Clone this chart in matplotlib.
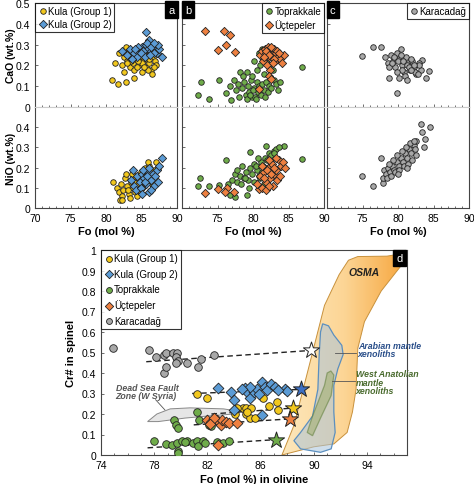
import numpy as np
import matplotlib
matplotlib.use("Agg")
import matplotlib.pyplot as plt
from matplotlib.patches import Polygon
from matplotlib.colors import LinearSegmentedColormap
from matplotlib.ticker import MultipleLocator, FuncFormatter

plt.rcParams["font.family"] = ["Liberation Sans", "DejaVu Sans"]
plt.rcParams["font.size"] = 7.5

# colours
c_k1 = "#f2c81e"
c_k2 = "#5b9bd5"
c_tp = "#6fac4a"
c_uc = "#ee8040"
c_kc = "#a8a8a8"

# ---- panel a: Kula ----
k1_fo_ca = [81.3, 81.8, 82.2, 82.5, 82.8, 83.0, 83.2, 83.4, 83.6, 83.8, 84.0, 84.2, 84.4, 84.6, 84.8, 85.0,
            85.2, 85.4, 85.6, 85.8, 86.0, 86.3, 86.6, 86.9, 87.1, 82.6, 83.1, 83.5, 83.9, 84.3, 84.7, 85.1,
            85.5, 85.9, 86.2, 86.5, 82.9, 83.7, 84.5, 85.3, 86.1, 86.8, 80.9, 81.7, 82.8, 84.0]
k1_cao = [0.21, 0.26, 0.20, 0.24, 0.29, 0.22, 0.27, 0.19, 0.25, 0.21, 0.18, 0.23, 0.28, 0.20, 0.24, 0.17,
          0.22, 0.26, 0.19, 0.23, 0.21, 0.18, 0.24, 0.22, 0.20, 0.17, 0.25, 0.22, 0.27, 0.19, 0.25, 0.21,
          0.24, 0.18, 0.26, 0.16, 0.21, 0.23, 0.22, 0.19, 0.23, 0.19, 0.13, 0.11, 0.12, 0.14]
k2_fo_ca = [82.3, 82.9, 83.4, 83.9, 84.3, 84.7, 85.0, 85.3, 85.6, 85.9, 86.1, 86.3, 86.6, 86.9, 87.2, 87.5,
            87.9, 83.6, 84.5, 85.2, 85.8, 86.4, 86.8, 87.3, 84.1, 84.9, 85.5, 86.2, 86.7, 85.7]
k2_cao = [0.27, 0.25, 0.28, 0.26, 0.24, 0.27, 0.29, 0.25, 0.30, 0.28, 0.32, 0.27, 0.30, 0.29, 0.26, 0.28,
          0.24, 0.23, 0.29, 0.27, 0.31, 0.29, 0.26, 0.30, 0.28, 0.26, 0.24, 0.25, 0.31, 0.36]
k1_fo_ni = [81.0, 81.5, 81.8, 82.1, 82.4, 82.7, 83.0, 83.2, 83.5, 83.8, 84.0, 84.3, 84.6, 84.9, 85.2, 85.5,
            85.8, 86.1, 86.4, 86.7, 87.0, 87.3, 82.2, 82.8, 83.4, 84.1, 84.7, 85.3, 85.9, 86.5, 82.0, 82.3,
            83.6, 84.4, 85.0, 85.6, 86.2, 83.1, 83.9]
k1_nio = [0.13, 0.10, 0.08, 0.12, 0.09, 0.15, 0.11, 0.07, 0.13, 0.10, 0.16, 0.12, 0.09, 0.18, 0.14, 0.20,
          0.17, 0.21, 0.15, 0.19, 0.23, 0.20, 0.06, 0.17, 0.05, 0.08, 0.14, 0.11, 0.23, 0.12, 0.04, 0.04,
          0.17, 0.06, 0.10, 0.15, 0.19, 0.09, 0.13]
k2_fo_ni = [83.5, 84.0, 84.4, 84.8, 85.1, 85.4, 85.7, 86.0, 86.3, 86.6, 86.9, 87.2, 87.5, 87.9, 84.2, 84.9,
            85.5, 86.1, 86.7, 87.3, 85.2, 85.8, 86.4, 86.0, 85.0, 83.8]
k2_nio = [0.14, 0.11, 0.16, 0.13, 0.17, 0.15, 0.12, 0.18, 0.14, 0.17, 0.16, 0.19, 0.21, 0.25, 0.09, 0.10,
          0.13, 0.08, 0.11, 0.13, 0.19, 0.16, 0.09, 0.20, 0.07, 0.19]

# ---- panel b: Toprakkale, Uctepeler ----
tp_fo_ca = [72.2, 72.65, 73.8, 75.15, 76.2, 76.9, 76.8, 77.3, 77.6, 77.9, 78.2, 78.4, 78.7, 79.0, 79.1, 79.3,
            79.5, 79.7, 79.9, 80.1, 80.3, 80.5, 80.7, 80.9, 81.1, 81.3, 81.5, 81.7, 81.9, 82.1, 82.3, 82.6,
            82.9, 83.2, 83.5, 83.8, 78.0, 78.6, 79.2, 79.8, 80.4, 81.0, 81.6, 82.2, 82.8, 80.2, 80.8, 81.4,
            81.2, 80.6, 86.9, 79.6, 80.0, 81.8, 82.4]
tp_cao = [0.058, 0.12, 0.038, 0.128, 0.067, 0.034, 0.10, 0.13, 0.08, 0.11, 0.17, 0.09, 0.12, 0.06, 0.17, 0.10,
          0.07, 0.13, 0.05, 0.09, 0.05, 0.12, 0.07, 0.10, 0.06, 0.11, 0.08, 0.05, 0.12, 0.07, 0.10, 0.09,
          0.13, 0.11, 0.08, 0.12, 0.05, 0.15, 0.04, 0.15, 0.04, 0.20, 0.16, 0.20, 0.18, 0.22, 0.26, 0.24,
          0.28, 0.18, 0.19, 0.06, 0.08, 0.22, 0.14]
uc_fo_ca = [73.3, 75.96, 76.7, 75.06, 76.2, 77.4, 80.8, 81.0, 81.3, 81.5, 81.7, 81.9, 82.1, 82.3, 82.5, 82.7,
            82.9, 83.1, 83.3, 83.5, 83.8, 84.1, 84.4, 81.4, 81.8, 82.2, 82.6, 83.0, 83.4, 82.0, 82.4, 82.8,
            82.3, 82.5, 81.6, 83.6]
uc_cao = [0.364, 0.365, 0.346, 0.276, 0.298, 0.264, 0.087, 0.25, 0.27, 0.23, 0.28, 0.26, 0.29, 0.24, 0.27, 0.25,
          0.28, 0.22, 0.26, 0.24, 0.23, 0.21, 0.25, 0.22, 0.27, 0.25, 0.29, 0.23, 0.27, 0.20, 0.18, 0.21,
          0.15, 0.135, 0.24, 0.26]
tp_fo_ni = [72.2, 72.55, 73.8, 75.15, 76.2, 76.7, 77.5, 79.1, 79.6, 81.8, 84.4, 86.9, 76.5, 77.0, 77.4, 77.8,
            78.1, 78.4, 78.7, 79.0, 79.3, 79.6, 79.9, 80.2, 80.5, 80.8, 81.1, 81.4, 81.7, 82.0, 82.3, 82.6,
            82.9, 83.2, 83.6, 77.7, 78.3, 78.9, 79.5, 80.1, 80.7, 81.3, 81.9, 80.4, 81.0, 81.6, 82.5, 83.0]
tp_nio = [0.107, 0.148, 0.107, 0.115, 0.238, 0.066, 0.056, 0.066, 0.277, 0.307, 0.307, 0.244, 0.12, 0.14, 0.17, 0.13,
          0.16, 0.21, 0.15, 0.18, 0.14, 0.20, 0.17, 0.22, 0.19, 0.16, 0.23, 0.21, 0.25, 0.24, 0.27, 0.26,
          0.28, 0.29, 0.30, 0.19, 0.12, 0.15, 0.10, 0.13, 0.25, 0.18, 0.20, 0.21, 0.15, 0.12, 0.23, 0.27]
uc_fo_ni = [73.3, 75.06, 76.3, 76.0, 77.3, 80.8, 80.6, 81.0, 81.3, 81.6, 81.9, 82.1, 82.4, 82.7, 83.0, 83.3,
            83.6, 83.9, 84.2, 84.5, 81.2, 81.8, 82.3, 82.8, 83.4, 81.5, 82.0, 82.6, 83.2, 83.8, 82.2, 82.9]
uc_nio = [0.073, 0.094, 0.10, 0.08, 0.08, 0.094, 0.12, 0.16, 0.10, 0.18, 0.13, 0.20, 0.15, 0.22, 0.17, 0.19,
          0.24, 0.21, 0.23, 0.20, 0.21, 0.09, 0.24, 0.11, 0.14, 0.15, 0.19, 0.17, 0.25, 0.16, 0.11, 0.20]

# ---- panel c: Karacadag ----
kc_fo_ca = [74.9, 76.5, 77.6, 80.45, 78.8, 79.9, 84.4, 84.0, 83.4, 78.2, 78.6, 79.0, 79.3, 79.6, 79.9, 80.2,
            80.5, 80.8, 81.1, 81.4, 81.7, 82.0, 82.3, 82.6, 82.9, 83.2, 78.8, 79.4, 80.0, 80.6, 81.2, 81.8,
            82.4, 83.0, 79.2, 79.8, 80.4, 81.0, 81.6, 82.2, 82.8, 80.1, 80.7, 81.3, 81.9]
kc_cao = [0.247, 0.287, 0.287, 0.279, 0.138, 0.067, 0.175, 0.138, 0.227, 0.24, 0.21, 0.25, 0.22, 0.19, 0.26, 0.23,
          0.20, 0.17, 0.24, 0.21, 0.18, 0.22, 0.19, 0.16, 0.21, 0.18, 0.19, 0.24, 0.22, 0.18, 0.20, 0.23,
          0.17, 0.20, 0.21, 0.17, 0.25, 0.15, 0.19, 0.20, 0.16, 0.14, 0.22, 0.13, 0.18]
kc_fo_ni = [74.9, 76.5, 77.9, 77.9, 77.6, 83.2, 84.5, 83.4, 83.8, 83.6, 78.0, 78.3, 78.6, 78.9, 79.2, 79.5,
            79.8, 80.1, 80.4, 80.7, 81.0, 81.3, 81.6, 81.9, 82.2, 82.5, 78.5, 79.0, 79.6, 80.2, 80.8, 81.4,
            82.0, 82.6, 79.3, 79.9, 80.5, 81.1, 81.7, 82.3, 78.8, 80.0, 81.2, 82.4]
kc_nio = [0.16, 0.107, 0.122, 0.147, 0.25, 0.416, 0.40, 0.378, 0.34, 0.30, 0.19, 0.17, 0.20, 0.18, 0.21, 0.19,
          0.23, 0.21, 0.25, 0.23, 0.27, 0.25, 0.29, 0.27, 0.31, 0.33, 0.15, 0.16, 0.18, 0.19, 0.21, 0.22,
          0.24, 0.26, 0.24, 0.26, 0.28, 0.30, 0.32, 0.33, 0.22, 0.17, 0.20, 0.29]

# ---- panel d: Cr# in spinel vs Fo ----
d_kc_fo = [74.9, 77.6, 78.1, 78.7, 78.9, 79.4, 79.7, 79.6, 79.8, 79.6, 80.5, 78.7, 78.9, 81.5, 81.3, 82.5]
d_kc_cr = [0.52, 0.51, 0.48, 0.49, 0.50, 0.50, 0.50, 0.48, 0.46, 0.45, 0.45, 0.40, 0.43, 0.47, 0.43, 0.49]
d_k2_fo = [82.8, 83.8, 84.0, 84.8, 85.0, 85.2, 85.5, 85.7, 86.1, 86.3, 86.5, 86.8, 87.1, 87.8, 88.0, 87.3,
           84.0, 86.1, 85.2, 85.9, 84.6]
d_k2_cr = [0.327, 0.307, 0.27, 0.327, 0.307, 0.28, 0.307, 0.324, 0.356, 0.332, 0.315, 0.348, 0.332, 0.324, 0.31, 0.315,
           0.22, 0.196, 0.332, 0.30, 0.32]
d_k1_fo = [81.2, 82.0, 84.7, 84.9, 85.3, 84.9, 85.2, 85.6, 86.2, 86.6, 87.2, 87.3, 84.1, 84.2, 85.0]
d_k1_cr = [0.30, 0.28, 0.23, 0.227, 0.23, 0.20, 0.18, 0.18, 0.28, 0.24, 0.26, 0.22, 0.20, 0.23, 0.21]
d_uc_fo = [82.0, 82.3, 82.7, 83.0, 83.1, 83.4, 83.6, 84.2, 82.5, 82.8, 82.2]
d_uc_cr = [0.173, 0.16, 0.17, 0.145, 0.173, 0.163, 0.157, 0.155, 0.18, 0.047, 0.15]
d_tp_fo = [81.2, 79.5, 79.6, 79.8, 81.4, 82.1, 82.3, 78.0, 78.9, 79.3, 79.7, 80.1, 80.5, 80.9, 81.2, 81.3,
           81.7, 81.8, 82.7, 83.2, 83.6, 79.8, 79.8, 80.3]
d_tp_cr = [0.21, 0.17, 0.145, 0.13, 0.17, 0.145, 0.14, 0.07, 0.055, 0.05, 0.06, 0.07, 0.07, 0.06, 0.07, 0.045,
           0.068, 0.06, 0.065, 0.06, 0.07, 0.02, 0.01, 0.065]

# trend lines (start point, star = estimated primary composition)
trend_kc = ([77.4, 89.77], [0.455, 0.51])
trend_k2 = ([80.85, 89.07], [0.30, 0.32])
trend_k1 = ([82.3, 88.45], [0.20, 0.229])
trend_uc = ([80.97, 88.2], [0.147, 0.176])
trend_tp = ([77.5, 87.15], [0.035, 0.075])

# outlined fields
osma_fo = [87.6, 88.5, 89.9, 90.8, 91.9, 92.6, 93.3, 95.5, 96.9, 97.0, 95.06, 93.8, 93.3, 93.17, 92.9, 92.5, 91.5, 90.0, 87.6]
osma_cr = [0.0, 0.144, 0.50, 0.73, 0.88, 0.95, 0.968, 0.97, 0.985, 0.96, 0.80, 0.65, 0.52, 0.32, 0.21, 0.11, 0.054, 0.04, 0.0]
arab_fo = [90.66, 91.1, 91.5, 92.1, 92.2, 91.8, 91.5, 91.5, 91.6, 91.3, 90.5, 89.0, 88.5, 89.0, 89.9, 90.3, 90.4, 90.5]
arab_cr = [0.64, 0.63, 0.585, 0.535, 0.49, 0.42, 0.34, 0.21, 0.11, 0.03, 0.013, 0.03, 0.07, 0.11, 0.19, 0.32, 0.49, 0.60]
wana_fo = [91.0, 91.28, 91.5, 91.3, 90.5, 89.9, 89.5, 89.9, 90.8]
wana_cr = [0.40, 0.41, 0.39, 0.29, 0.18, 0.094, 0.11, 0.19, 0.34]
dsfz_fo = [77.5, 78.2, 79.2, 80.7, 83.2, 84.0, 84.0, 82.0, 80.3, 78.3]
dsfz_cr = [0.163, 0.20, 0.225, 0.23, 0.225, 0.217, 0.20, 0.19, 0.18, 0.163]

W, H = 474, 485
fig = plt.figure(figsize=(W / 100, H / 100), dpi=100)

fmt = FuncFormatter(lambda v, p: f"{v:g}")
ec = "#222222"
LFS = 7


def panel_tag(ax, txt, x, ha):
    ax.text(x, 0.985, txt, transform=ax.transAxes, ha=ha, va="top", color="white", fontsize=8,
            bbox=dict(boxstyle="square,pad=0.3", fc="black", ec="black"), zorder=10)


def add_legend(ax, loc, handles=None, labels=None, spacing=0.3):
    if handles is None:
        lg = ax.legend(loc=loc, frameon=True, fancybox=False, edgecolor="black", handletextpad=0.0,
                       borderpad=0.3, labelspacing=spacing, handlelength=1.0, borderaxespad=0.0, fontsize=LFS)
    else:
        lg = ax.legend(handles, labels, loc=loc, frameon=True, fancybox=False, edgecolor="black",
                       handletextpad=0.0, borderpad=0.35, labelspacing=spacing, handlelength=1.0,
                       borderaxespad=0.0, fontsize=LFS)
    lg.get_frame().set_linewidth(0.8)
    lg.set_zorder(6)
    return lg


def style_top(ax, show_y, lower):
    ax.set_xlim(70, 90)
    ax.set_ylim(0, 0.5)
    ax.xaxis.set_major_locator(MultipleLocator(5))
    ax.xaxis.set_minor_locator(MultipleLocator(1))
    ax.yaxis.set_major_locator(MultipleLocator(0.1))
    ax.tick_params(which="both", direction="in", length=2.5, width=0.6, color="#555555")
    ax.tick_params(which="minor", length=1.5)
    ax.yaxis.set_major_formatter(fmt)
    for s in ax.spines.values():
        s.set_color("#444444")
        s.set_linewidth(0.8)
    if not show_y:
        ax.tick_params(labelleft=False)
    if lower:
        ax.spines["top"].set_color("#cccccc")
    else:
        ax.spines["bottom"].set_color("#cccccc")
        ax.tick_params(labelbottom=False)


lefts = [35 / W, 182 / W, 327 / W]
wid = 142 / W
ca_axes, ni_axes = [], []
for i, l in enumerate(lefts):
    axc = fig.add_axes([l, 1 - 108 / H, wid, 104 / H])
    axn = fig.add_axes([l, 1 - 209 / H, wid, 101 / H])
    style_top(axc, i == 0, False)
    style_top(axn, i == 0, True)
    if i == 0:
        axn.set_yticks([0, 0.1, 0.2, 0.3, 0.4])
    else:
        axn.set_xticks([75, 80, 85, 90])
    axn.set_xlabel("Fo (mol %)", fontweight="bold", fontsize=8, labelpad=2)
    ca_axes.append(axc)
    ni_axes.append(axn)

ca_axes[0].set_ylabel("CaO (wt.%)", fontweight="bold", fontsize=7.5)
ni_axes[0].set_ylabel("NiO (wt.%)", fontweight="bold", fontsize=7.5)
ca_axes[0].yaxis.set_label_coords(-0.135, 0.5)
ni_axes[0].yaxis.set_label_coords(-0.135, 0.5)

ms = 16
kw = dict(s=ms, edgecolors=ec, linewidths=0.6)
kwd = dict(s=ms * 1.1, edgecolors=ec, linewidths=0.6, marker="D")

ax = ca_axes[0]
ax.scatter(k1_fo_ca, k1_cao, c=c_k1, label="Kula (Group 1)", **kw)
ax.scatter(k2_fo_ca, k2_cao, c=c_k2, label="Kula (Group 2)", **kwd)
add_legend(ax, "upper left")
panel_tag(ax, "a", 0.985, "right")
ax = ni_axes[0]
ax.scatter(k1_fo_ni, k1_nio, c=c_k1, **kw)
ax.scatter(k2_fo_ni, k2_nio, c=c_k2, **kwd)

ax = ca_axes[1]
ax.scatter(tp_fo_ca, tp_cao, c=c_tp, label="Toprakkale", **kw)
ax.scatter(uc_fo_ca, uc_cao, c=c_uc, label="Üçtepeler", **kwd)
add_legend(ax, "upper right")
panel_tag(ax, "b", 0.02, "left")
ax = ni_axes[1]
ax.scatter(tp_fo_ni, tp_nio, c=c_tp, **kw)
ax.scatter(uc_fo_ni, uc_nio, c=c_uc, **kwd)

ax = ca_axes[2]
ax.scatter(kc_fo_ca, kc_cao, c=c_kc, label="Karacadağ", **kw)
add_legend(ax, "upper right")
panel_tag(ax, "c", 0.02, "left")
ax = ni_axes[2]
ax.scatter(kc_fo_ni, kc_nio, c=c_kc, **kw)

# ---- panel d ----
axd = fig.add_axes([101 / W, 1 - 456 / H, 306 / W, 205 / H])
axd.set_xlim(74, 97)
axd.set_ylim(0, 1)
axd.set_xticks([74, 78, 82, 86, 90, 94])
axd.xaxis.set_minor_locator(MultipleLocator(1))
axd.yaxis.set_major_locator(MultipleLocator(0.1))
axd.yaxis.set_major_formatter(fmt)
axd.tick_params(which="both", direction="in", length=2.5, width=0.6, color="#555555")
axd.tick_params(which="minor", length=1.5)
for s in axd.spines.values():
    s.set_color("#444444")
    s.set_linewidth(0.8)
axd.set_xlabel("Fo (mol %) in olivine", fontweight="bold", fontsize=8, labelpad=3)
axd.set_ylabel("Cr# in spinel", fontweight="bold", fontsize=8)

# OSMA band with horizontal gradient
osma = Polygon(list(zip(osma_fo, osma_cr)), closed=True, fc="none", ec="#c8913c", lw=0.7, zorder=1)
axd.add_patch(osma)
cmap = LinearSegmentedColormap.from_list("osma", ["#fde8bd", "#fcd595", "#f6a43a"])
grad = np.linspace(0, 1, 256).reshape(1, -1)
im = axd.imshow(grad, extent=[87.5, 97, 0, 1], aspect="auto", cmap=cmap, zorder=0.5, origin="lower")
im.set_clip_path(osma)
axd.text(93.8, 0.895, "OSMA", fontstyle="italic", fontweight="bold", fontsize=7.5, color="#222222",
         ha="center", va="center", zorder=3)

axd.add_patch(Polygon(list(zip(arab_fo, arab_cr)), closed=True, fc="#a9c4dc", alpha=0.55, ec="none", zorder=1.2))
axd.add_patch(Polygon(list(zip(arab_fo, arab_cr)), closed=True, fc="none", ec="#5b8fbf", lw=0.9, zorder=1.3))
axd.add_patch(Polygon(list(zip(wana_fo, wana_cr)), closed=True, fc="#9fae6e", alpha=0.55, ec="#5e7d3a", lw=0.9, zorder=1.4))
axd.add_patch(Polygon(list(zip(dsfz_fo, dsfz_cr)), closed=True, fc="#e6e6e6", ec="#888888", lw=0.7, zorder=1.5))

axd.plot([91.6, 93.2], [0.5, 0.5], color="#555555", lw=0.6, zorder=3)
axd.text(93.3, 0.515, "Arabian mantle\nxenoliths", fontstyle="italic", fontweight="bold", fontsize=6.3,
         color="#2a4f8a", ha="left", va="center", linespacing=0.95, zorder=3)
axd.plot([91.4, 93.1], [0.36, 0.36], color="#555555", lw=0.6, zorder=3)
axd.text(93.15, 0.355, "West Anatolian\nmantle\nxenoliths", fontstyle="italic", fontweight="bold", fontsize=6.3,
         color="#4a6b2e", ha="left", va="center", linespacing=0.95, zorder=3)
axd.plot([78.1, 78.8], [0.27, 0.22], color="#555555", lw=0.6, zorder=3)
axd.text(75.1, 0.31, "Dead Sea Fault\nZone (W Syria)", fontstyle="italic", fontweight="bold", fontsize=6.3,
         color="#555555", ha="left", va="center", linespacing=0.95, zorder=3)

for tr in [trend_kc, trend_k2, trend_k1, trend_uc, trend_tp]:
    axd.plot(tr[0], tr[1], ls=(0, (4, 2.5)), color="#222222", lw=1.0, zorder=2)

dkw = dict(s=30, edgecolors=ec, linewidths=0.6, zorder=4)
axd.scatter(d_kc_fo, d_kc_cr, c=c_kc, label="Karacadağ", **dkw)
axd.scatter(d_tp_fo, d_tp_cr, c=c_tp, label="Toprakkale", **dkw)
axd.scatter(d_k1_fo, d_k1_cr, c=c_k1, label="Kula (Group 1)", **dkw)
axd.scatter(d_uc_fo, d_uc_cr, c=c_uc, marker="D", label="Üçtepeler", **dkw)
axd.scatter(d_k2_fo, d_k2_cr, c=c_k2, marker="D", label="Kula (Group 2)", **dkw)

skw = dict(s=150, marker="*", edgecolors=ec, linewidths=0.7, zorder=5)
axd.scatter([trend_kc[0][1]], [trend_kc[1][1]], c="white", **skw)
axd.scatter([trend_k2[0][1]], [trend_k2[1][1]], c="#3d6fc2", **skw)
axd.scatter([trend_k1[0][1]], [trend_k1[1][1]], c=c_k1, **skw)
axd.scatter([trend_uc[0][1]], [trend_uc[1][1]], c=c_uc, **skw)
axd.scatter([trend_tp[0][1]], [trend_tp[1][1]], c=c_tp, **skw)

h, l = axd.get_legend_handles_labels()
order = ["Kula (Group 1)", "Kula (Group 2)", "Toprakkale", "Üçtepeler", "Karacadağ"]
hh = [h[l.index(o)] for o in order]
lg = add_legend(axd, "upper left", hh, order, spacing=0.55)
for x in lg.legend_handles:
    x.set_sizes([18])
panel_tag(axd, "d", 0.985, "right")

fig.savefig("out.png", dpi=100)
